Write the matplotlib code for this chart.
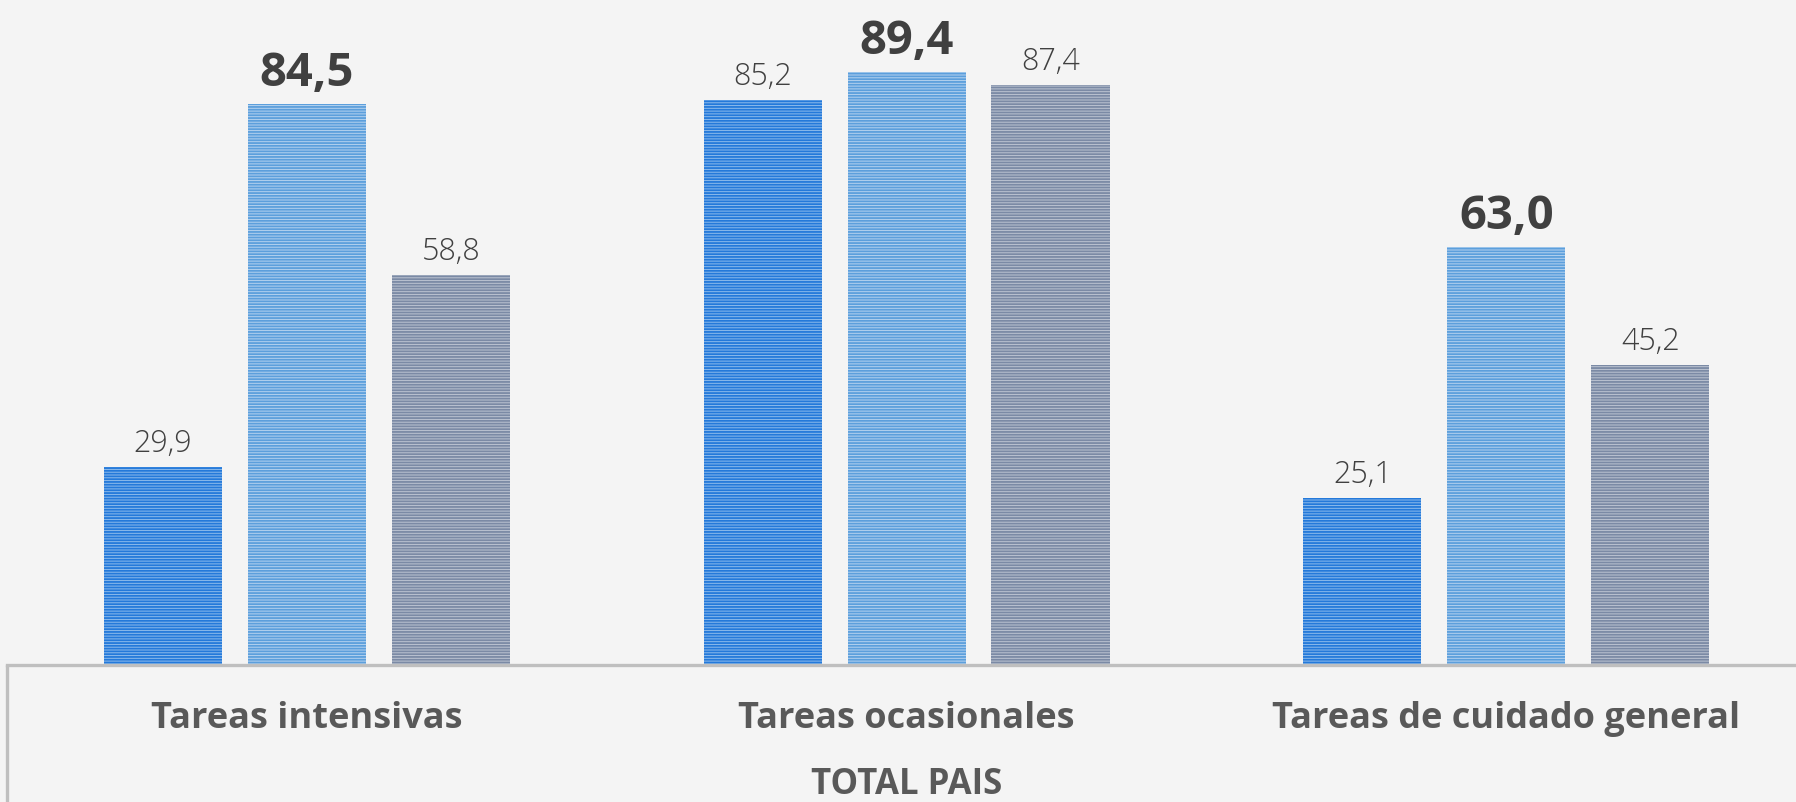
import matplotlib.pyplot as plt
import numpy as np

# Data
categories = ['Tareas intensivas', 'Tareas ocasionales', 'Tareas de cuidado general']
serie_1 = [29.9, 85.2, 25.1]
serie_2 = [84.5, 89.4, 63.0]
serie_3 = [58.8, 87.4, 45.2]
group_label = 'TOTAL PAIS'

series = [serie_1, serie_2, serie_3]
light = ['#8dbbec', '#b5d2ef', '#bcc4d2']
dark = ['#2479da', '#5c9fdc', '#7b8aa5']

plt.rcParams['font.family'] = ['Open Sans', 'DejaVu Sans']
plt.rcParams['hatch.linewidth'] = 1.3

fig = plt.figure(figsize=(17.96, 8.02), dpi=100, facecolor='#f4f4f4')
ax = fig.add_axes([7 / 1796, 137 / 802, 1 - 7 / 1796, 665 / 802])
ax.set_facecolor('#f4f4f4')

x = np.arange(len(categories))
width = 0.197
pitch = 0.24
px = 100.2 / 665  # data units per pixel on the y axis

for i, vals in enumerate(series):
    pos = x + (i - 1) * pitch
    bars = ax.bar(pos, vals, width, color=light[i], edgecolor=dark[i],
                  hatch='-' * 6, linewidth=0)
    for bar, v in zip(bars, vals):
        label = f'{v:.1f}'.replace('.', ',')
        if i == 1:
            ax.annotate(label, (bar.get_x() + bar.get_width() / 2, v),
                        xytext=(0, 5), textcoords='offset points',
                        ha='center', va='bottom', fontsize=34,
                        fontweight='bold', color='#404040')
        else:
            ax.annotate(label, (bar.get_x() + bar.get_width() / 2, v),
                        xytext=(0, 5), textcoords='offset points',
                        ha='center', va='bottom', fontsize=22,
                        fontweight='light', color='#404040')

ax.set_xlim(-0.5, 2.483)
ax.set_ylim(0, 100.2)

for s in ['top', 'right', 'left']:
    ax.spines[s].set_visible(False)
ax.spines['bottom'].set_color('#bfbfbf')
ax.spines['bottom'].set_linewidth(2.4)
ax.set_yticks([])
ax.set_xticks([])

# multilevel category axis
for xi, cat in zip(x, categories):
    ax.text(xi, -63 * px, cat, ha='center', va='baseline', fontsize=26,
            fontweight='bold', color='#595959')
ax.text(1, -129 * px, group_label, ha='center', va='baseline', fontsize=25,
        fontweight='bold', color='#595959')
ax.plot([-0.5, -0.5], [0, -140 * px], color='#bfbfbf', lw=2.4,
        clip_on=False, solid_capstyle='butt')

fig.savefig('out.png', dpi=100, facecolor=fig.get_facecolor())
